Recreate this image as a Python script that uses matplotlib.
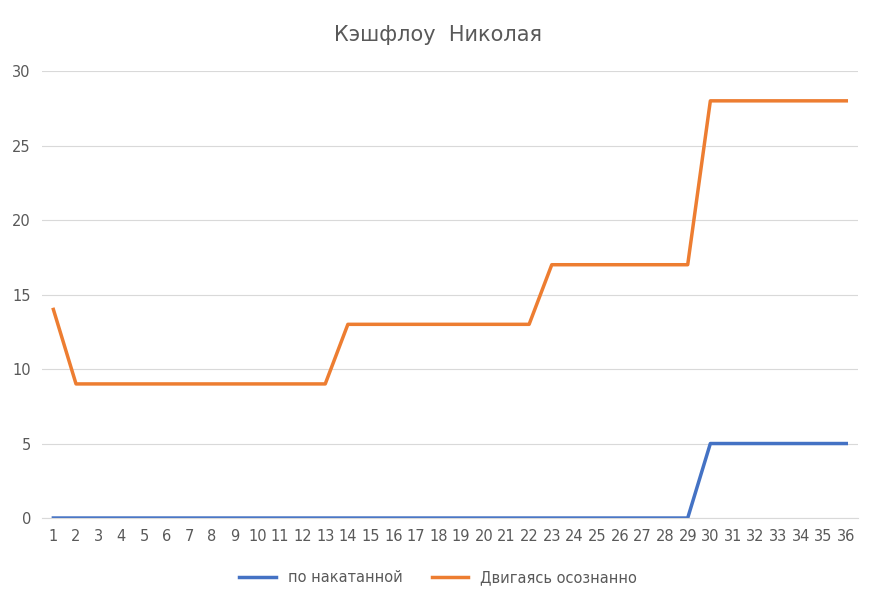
import numpy as np
import matplotlib.pyplot as plt

months = list(range(1, 37))
po_nakatannoy = [0] * 29 + [5] * 7
osoznanno = [14] + [9] * 12 + [13] * 9 + [17] * 7 + [28] * 7

fig = plt.figure(figsize=(8.76, 6.02), dpi=100)
ax = fig.add_axes([0.048, 0.1395, 0.931, 0.7425])

x = np.arange(len(months))
ax.plot(x, po_nakatannoy, color='#4472C4', lw=2.5, label='по накатанной')
ax.plot(x, osoznanno, color='#ED7D31', lw=2.5, label='Двигаясь осознанно')

ax.set_xlim(-0.5, len(months) - 0.5)
ax.set_ylim(0, 30)
ax.set_yticks(range(0, 31, 5))
ax.set_xticks(x)
ax.set_xticklabels([str(m) for m in months])
ax.grid(axis='y', color='#D9D9D9', lw=0.8)
ax.set_axisbelow(True)
for s in ['top', 'right', 'left']:
    ax.spines[s].set_visible(False)
ax.spines['bottom'].set_color('#D9D9D9')
ax.tick_params(length=0, labelsize=10.5, colors='#595959', pad=8)

fig.text(0.5, 0.942, 'Кэшфлоу  Николая', ha='center', va='center',
         fontsize=15, color='#595959')
fig.legend(loc='center', bbox_to_anchor=(0.5, 0.04), ncol=2, frameon=False,
           fontsize=10.5, labelcolor='#595959', handlelength=2.5,
           columnspacing=2)

fig.savefig('out.png', dpi=100)
